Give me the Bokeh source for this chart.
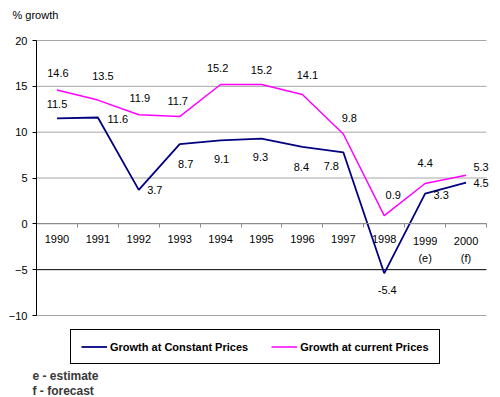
from bokeh.plotting import figure
from bokeh.models import (ColumnDataSource, Range1d, FixedTicker, Label,
                          LabelSet, Legend, LegendItem, LinearAxis)
from bokeh.embed import file_html
from bokeh.resources import INLINE
from bokeh.core.properties import value

# ---- data ----
years = ["1990", "1991", "1992", "1993", "1994", "1995", "1996", "1997",
         "1998", "1999\n(e)", "2000\n(f)"]
constant = [11.5, 11.6, 3.7, 8.7, 9.1, 9.3, 8.4, 7.8, -5.4, 3.3, 4.5]
current = [14.6, 13.5, 11.9, 11.7, 15.2, 15.2, 14.1, 9.8, 0.9, 4.4, 5.3]
y_ticks = [-10, -5, 0, 5, 10, 15, 20]

# label placement (screen px, +down)
const_dx = [0, 20, 16, 6, 1, -1, -1, -12, 3, 16, 15]
const_dy = [-14, 1, 0, 20, 19, 18, 20, 14, 17, 1, 0]
cur_dx = [1, 5, 1, -2, -3, 0, 5, 6, 9, 0, 15]
cur_dy = [-17, -24, -17, -16, -17, -15, -20, -16, -21, -21, -8]

FONT = "Liberation Sans"
NAVY = "#000080"
MAGENTA = "#ff00ff"
GRID = "#a6a6a6"

W, H = 500, 397
PL, PR, PT, PB = 36, 486, 40, 315          # plot area in pixels
n = len(years)
ymin, ymax = min(y_ticks), max(y_ticks)
sx = (PR - PL) / n
sy = (PB - PT) / (ymax - ymin)

xpos = [i + 0.5 for i in range(n)]

p = figure(width=W, height=H, output_backend="svg", toolbar_location=None,
           x_range=Range1d(-PL / sx, n + (W - PR) / sx),
           y_range=Range1d(ymin - (H - PB) / sy, ymax + PT / sy),
           min_border=0, x_axis_location=None, y_axis_location=None)
p.outline_line_color = None
p.background_fill_color = "white"
p.border_fill_color = "white"
p.xgrid.visible = False
p.ygrid.visible = False

# gridlines (only across the plot area)
p.segment(x0=[0] * len(y_ticks), x1=[n] * len(y_ticks), y0=y_ticks, y1=y_ticks,
          line_color=["black" if t == -5 else GRID for t in y_ticks], line_width=1)

# axes
yax = LinearAxis(ticker=FixedTicker(ticks=y_ticks), fixed_location=0, bounds=(ymin, ymax))
yax.axis_line_color = "black"
yax.major_tick_line_color = "black"
yax.major_tick_out = 4
yax.major_tick_in = 0
yax.minor_tick_line_color = None
yax.major_label_standoff = 5
yax.major_label_text_font = FONT
yax.major_label_text_font_size = "11px"
yax.major_label_text_color = "black"
p.add_layout(yax, "left")

xax = LinearAxis(ticker=FixedTicker(ticks=list(range(n + 1))), fixed_location=0, bounds=(0, n))
xax.major_label_overrides = {i: "" for i in range(n + 1)}
xax.axis_line_color = "#8c8c8c"
xax.major_tick_line_color = "#8c8c8c"
xax.major_tick_out = 4
xax.major_tick_in = 0
xax.minor_tick_line_color = None
p.add_layout(xax, "below")

src = ColumnDataSource(dict(x=xpos, years=years, const=constant, cur=current,
                            const_t=[f"{v:.1f}" for v in constant],
                            cur_t=[f"{v:.1f}" for v in current],
                            cdx=const_dx, cdy=[-d for d in const_dy],
                            udx=cur_dx, udy=[-d for d in cur_dy],
                            zero=[0] * n))

p.text(x="x", y="zero", text="years", source=src, text_font=value(FONT),
       text_font_size="11px", text_color="black", text_align="center",
       text_baseline="top", y_offset=11, text_line_height=1.45)

r1 = p.line("x", "const", source=src, line_color=NAVY, line_width=1.8)
r2 = p.line("x", "cur", source=src, line_color=MAGENTA, line_width=1.5)

p.add_layout(LabelSet(x="x", y="const", text="const_t", x_offset="cdx", y_offset="cdy",
                      source=src, text_font=value(FONT), text_font_size="11px",
                      text_color="black", text_align="center", text_baseline="middle"))
p.add_layout(LabelSet(x="x", y="cur", text="cur_t", x_offset="udx", y_offset="udy",
                      source=src, text_font=value(FONT), text_font_size="11px",
                      text_color="black", text_align="center", text_baseline="middle"))

# texts around the plot (screen px from bottom-left)
p.add_layout(Label(x=12, y=H - 14, x_units="screen", y_units="screen", text="% growth",
                   text_font=FONT, text_font_size="11px", text_color="black",
                   text_align="left", text_baseline="middle"))
p.add_layout(Label(x=32, y=H - 375, x_units="screen", y_units="screen", text="e - estimate",
                   text_font=FONT, text_font_size="12px", text_font_style="bold",
                   text_color="#383838", text_align="left", text_baseline="middle"))
p.add_layout(Label(x=32, y=H - 390, x_units="screen", y_units="screen", text="f - forecast",
                   text_font=FONT, text_font_size="12px", text_font_style="bold",
                   text_color="#383838", text_align="left", text_baseline="middle"))

legend = Legend(items=[LegendItem(label="Growth at Constant Prices", renderers=[r1]),
                       LegendItem(label="Growth at current Prices", renderers=[r2])],
                orientation="horizontal", location=(70, H - 364),
                border_line_color="black", border_line_width=1, border_line_alpha=1,
                background_fill_color="white", background_fill_alpha=1,
                padding=10, spacing=23, margin=0, glyph_width=26, glyph_height=13,
                label_height=13, label_standoff=3,
                label_text_font=FONT, label_text_font_size="11px",
                label_text_font_style="bold", label_text_color="black")
p.add_layout(legend, "center")

open("out.html", "w").write(file_html(p, INLINE))
